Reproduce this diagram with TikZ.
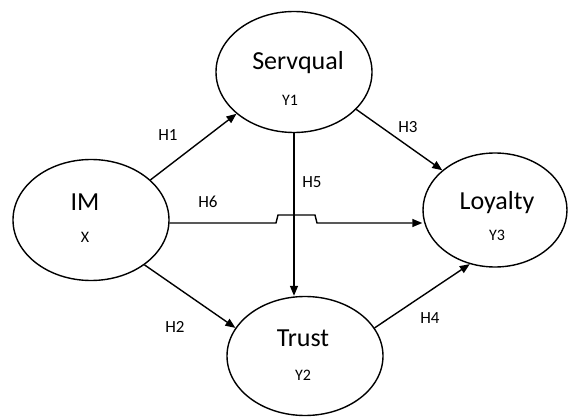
\documentclass[tikz,border=0pt]{standalone}
\usepackage{fontspec}
\setmainfont{Carlito}
\usetikzlibrary{arrows.meta, positioning, shapes.geometric}

\begin{document}
\begin{tikzpicture}[
    x=1pt, y=-1pt,
    construct/.style={ellipse, draw, line width=1.4pt, minimum width=156pt,
                 minimum height=121pt, inner sep=0pt},
    cname/.style={font=\fontsize{26}{30}\selectfont, inner sep=0pt},
    ccode/.style={font=\fontsize{16}{19}\selectfont, inner sep=0pt},
    hyp/.style={font=\fontsize{17}{20}\selectfont, inner sep=0pt},
    link/.style={-{Triangle[length=10pt, width=8pt]}, line width=1.4pt},
  ]
    \useasboundingbox (0,0) rectangle (568,417);

    \node[construct] (im) at (91,220) {};
    \node[construct] (serv) at (294,72) {};
    \node[construct, minimum height=119pt] (trust) at (305,356) {};
    \node[construct, minimum width=144pt, minimum height=114pt] (loyal) at (495,210) {};

    \node[cname] (imname) at ([xshift=-6pt, yshift=18pt]im.center) {IM};
    \node[ccode] (imcode) at ([xshift=-6pt, yshift=-17pt]im.center) {X};
    \node[cname] (servname) at ([xshift=4pt, yshift=9pt]serv.center) {Servqual};
    \node[ccode] (servcode) at ([xshift=-4pt, yshift=-28pt]serv.center) {Y1};
    \node[cname] (trustname) at ([xshift=-2pt, yshift=18pt]trust.center) {Trust};
    \node[ccode] (trustcode) at ([xshift=-2pt, yshift=-19pt]trust.center) {Y2};
    \node[cname] (loyalname) at ([xshift=2pt, yshift=7pt]loyal.center) {Loyalty};
    \node[ccode] (loyalcode) at ([xshift=2pt, yshift=-25pt]loyal.center) {Y3};

    % paths between constructs
    \draw[link] (im.34) -- (serv.216);
    \draw[link] (im.-40) -- (trust.158);
    \draw[link] (serv.-31) -- (loyal.143);
    \draw[link] (trust.22) -- (loyal.245);
    \draw[link] (serv.south) -- (serv.south |- trust.north);

    \coordinate (jump) at (276,223);
    \draw[link] (im.east |- jump) -- (jump) -- ++(2,-8) -- ++(37,0) -- ++(2,8)
      -- (jump -| loyal.west);

    \node[hyp] (h1) at (168,135) {H1};
    \node[hyp] (h2) at (175,327) {H2};
    \node[hyp] (h3) at (408,127) {H3};
    \node[hyp] (h4) at (430,318) {H4};
    \node[hyp] (h5) at (312,182) {H5};
    \node[hyp] (h6) at (208,202) {H6};
  \end{tikzpicture}
\end{document}
